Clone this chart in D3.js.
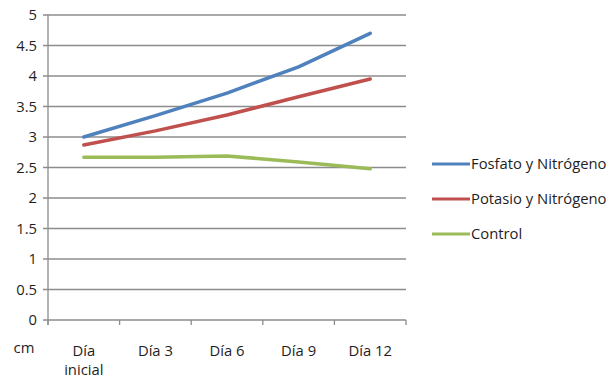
<!DOCTYPE html>
<html>
<head>
<meta charset="utf-8">
<script src="https://cdn.jsdelivr.net/npm/d3@7"></script>
<style>
  html, body { margin: 0; padding: 0; background: #fff; }
  svg { display: block; }
  text { font-family: "Open Sans", "Noto Sans", sans-serif; fill: #1e1e1e; }
</style>
</head>
<body>
<svg id="chart" width="614" height="380"></svg>
<script>
// Categories (x axis) and series values in cm
const categories = ["Día inicial", "Día 3", "Día 6", "Día 9", "Día 12"];
const fosfatoNitrogeno = [3.0, 3.35, 3.72, 4.15, 4.70];
const potasioNitrogeno = [2.87, 3.10, 3.36, 3.66, 3.95];
const control = [2.67, 2.67, 2.69, 2.59, 2.48];
const seriesNames = ["Fosfato y Nitrógeno", "Potasio y Nitrógeno", "Control"];
const seriesColors = ["#4F81BD", "#C0504D", "#9BBB59"];
const yTicks = [0, 0.5, 1, 1.5, 2, 2.5, 3, 3.5, 4, 4.5, 5];

const series = [fosfatoNitrogeno, potasioNitrogeno, control].map((values, i) => ({
  name: seriesNames[i], color: seriesColors[i], values
}));

const svg = d3.select("#chart");
const plot = { left: 48, right: 406, top: 15, bottom: 320 };
const fontSize = 14.8;

const x = d3.scaleBand().domain(categories).range([plot.left, plot.right]);
const y = d3.scaleLinear().domain([0, 5]).range([plot.bottom, plot.top]);

// Horizontal gridlines
svg.append("g")
  .selectAll("line")
  .data(yTicks)
  .join("line")
  .attr("x1", plot.left - 5)
  .attr("x2", plot.right)
  .attr("y1", d => y(d))
  .attr("y2", d => y(d))
  .attr("stroke", "#8c8c8c")
  .attr("stroke-width", 1.3);

// Y axis line and tick labels
svg.append("line")
  .attr("x1", plot.left).attr("x2", plot.left)
  .attr("y1", plot.top).attr("y2", plot.bottom + 5)
  .attr("stroke", "#8c8c8c").attr("stroke-width", 1.3);

svg.append("g")
  .selectAll("text")
  .data(yTicks)
  .join("text")
  .attr("x", 37)
  .attr("y", d => y(d))
  .attr("dy", "0.35em")
  .attr("text-anchor", "end")
  .attr("font-size", fontSize)
  .text(d => d);

// X axis tick marks at band edges
const edges = categories.map(c => x(c)).concat([plot.right]);
svg.append("g")
  .selectAll("line")
  .data(edges)
  .join("line")
  .attr("x1", d => d).attr("x2", d => d)
  .attr("y1", plot.bottom).attr("y2", plot.bottom + 5)
  .attr("stroke", "#8c8c8c").attr("stroke-width", 1.3);

// Category labels (wrapped on spaces for "Día inicial")
const catLabels = svg.append("g")
  .selectAll("text")
  .data(categories)
  .join("text")
  .attr("x", d => x(d) + x.bandwidth() / 2)
  .attr("y", 356)
  .attr("text-anchor", "middle")
  .attr("font-size", fontSize);
catLabels.each(function(d) {
  const t = d3.select(this);
  const cx = x(d) + x.bandwidth() / 2;
  if (d === "Día inicial") {
    t.append("tspan").attr("x", cx).text("Día");
    t.append("tspan").attr("x", cx).attr("dy", 18.5).text("inicial");
  } else {
    t.text(d);
  }
});

// Unit label
svg.append("text")
  .attr("x", 24).attr("y", 353)
  .attr("text-anchor", "middle")
  .attr("font-size", fontSize)
  .text("cm");

// Series lines
const line = d3.line()
  .x((d, i) => x(categories[i]) + x.bandwidth() / 2)
  .y(d => y(d));

svg.append("g")
  .selectAll("path")
  .data(series)
  .join("path")
  .attr("d", d => line(d.values))
  .attr("fill", "none")
  .attr("stroke", d => d.color)
  .attr("stroke-width", 3.5)
  .attr("stroke-linejoin", "round")
  .attr("stroke-linecap", "round");

// Legend
const legend = svg.append("g")
  .selectAll("g")
  .data(series)
  .join("g")
  .attr("transform", (d, i) => `translate(432, ${164 + i * 35})`);
legend.append("line")
  .attr("x1", 0).attr("x2", 38)
  .attr("stroke", d => d.color)
  .attr("stroke-width", 3);
legend.append("text")
  .attr("x", 39)
  .attr("dy", "0.35em")
  .attr("font-size", fontSize)
  .text(d => d.name);
</script>
</body>
</html>
